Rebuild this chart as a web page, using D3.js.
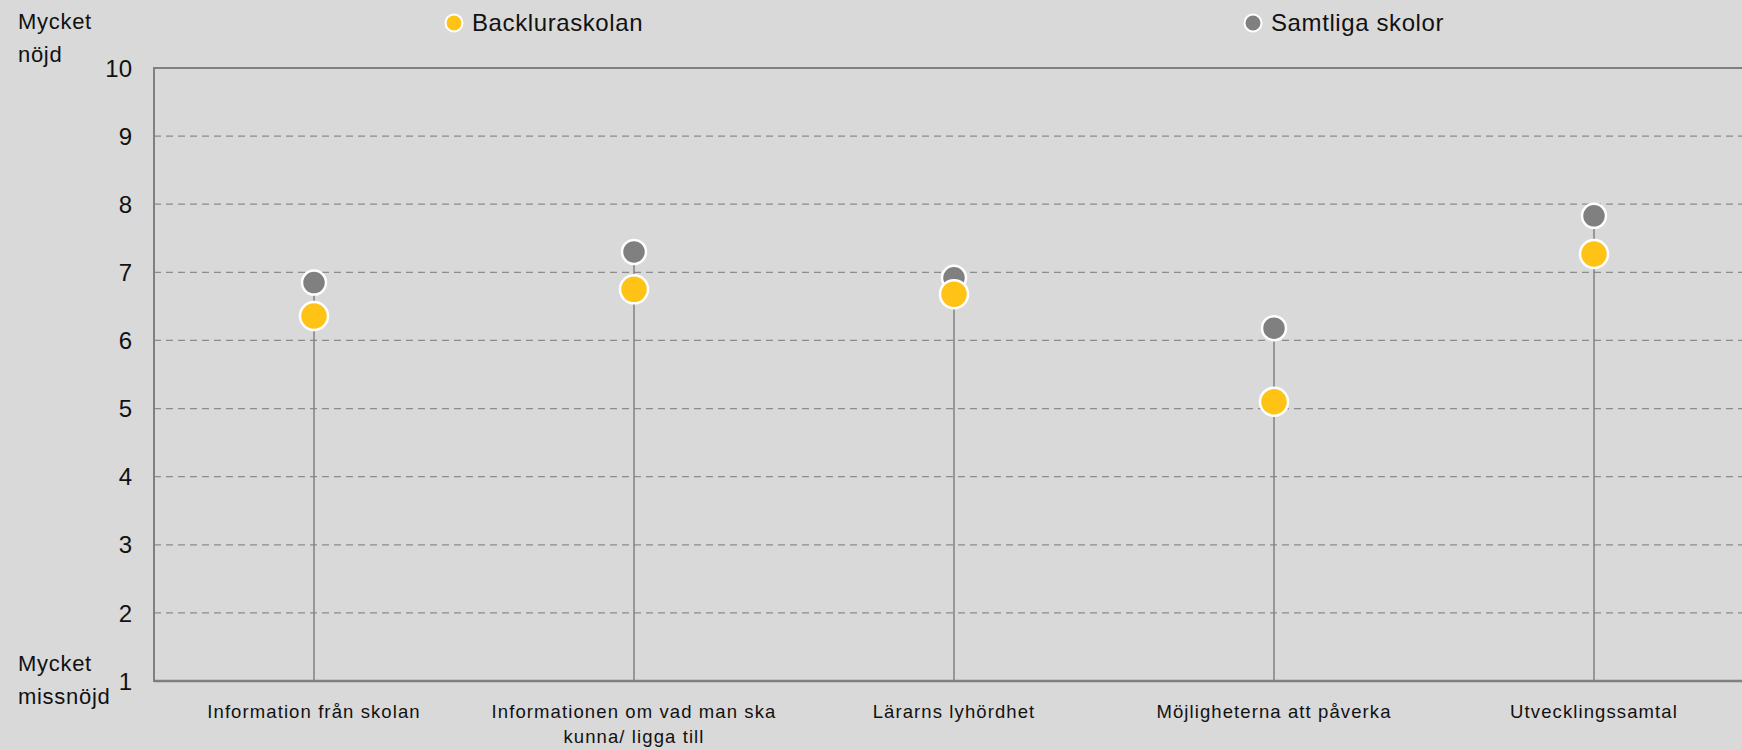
<!DOCTYPE html>
<html><head><meta charset="utf-8">
<script src="https://cdn.jsdelivr.net/npm/d3@7"></script>
<style>body{margin:0;background:#d9d9d9;}svg{display:block;font-family:"Liberation Sans",Arial,sans-serif;}</style>
</head><body>
<svg id="c" width="1742" height="750"></svg>
<script>
const categories = [["Information från skolan"],["Informationen om vad man ska","kunna/ ligga till"],["Lärarns lyhördhet"],["Möjligheterna att påverka"],["Utvecklingssamtal"]];
const backluraskolan = [6.36, 6.75, 6.68, 5.10, 7.27];
const samtliga = [6.85, 7.30, 6.92, 6.18, 7.83];
const yTicks = [1,2,3,4,5,6,7,8,9,10];
const seriesNames = ["Backluraskolan","Samtliga skolor"];

(function(){
const svg = d3.select("#c");
const W=1742,H=750;
svg.append("rect").attr("width",W).attr("height",H).attr("fill","#d9d9d9");
const pL=154, pR=1754, pT=68, pB=681;
const x = d3.scaleBand().domain(d3.range(categories.length)).range([pL,pR]);
const y = d3.scaleLinear().domain([1,10]).range([pB,pT]);

svg.append("g").selectAll("line").data(yTicks.filter(t=>t>1&&t<10)).join("line")
  .attr("x1",pL).attr("x2",W).attr("y1",d=>y(d)).attr("y2",d=>y(d))
  .attr("stroke","#8c8c8c").attr("stroke-width",1.2).attr("stroke-dasharray","7,5");
svg.append("line").attr("x1",pL).attr("x2",W).attr("y1",y(10)).attr("y2",y(10)).attr("stroke","#808080").attr("stroke-width",2);
svg.append("line").attr("x1",pL).attr("x2",W).attr("y1",y(1)).attr("y2",y(1)).attr("stroke","#808080").attr("stroke-width",2.5);
svg.append("line").attr("x1",pL).attr("x2",pL).attr("y1",y(10)-1).attr("y2",y(1)+1).attr("stroke","#808080").attr("stroke-width",2);

svg.append("g").selectAll("text").data(yTicks).join("text")
  .attr("x",132).attr("y",d=>y(d)).attr("dy","0.36em").attr("text-anchor","end")
  .attr("font-size",24).attr("fill","#111").text(d=>d);

const endLab = (lines,x0,y0)=>{const t=svg.append("text").attr("font-size",22).attr("letter-spacing","0.7px").attr("fill","#111");
  lines.forEach((l,i)=>t.append("tspan").attr("x",x0).attr("y",y0+i*33).text(l));};
endLab(["Mycket","nöjd"],18,29);
endLab(["Mycket","missnöjd"],18,671);

const cx = i=>x(i)+x.bandwidth()/2;
svg.append("g").selectAll("line").data(d3.range(categories.length)).join("line")
  .attr("x1",cx).attr("x2",cx).attr("y1",y(1)).attr("y2",i=>y(Math.max(samtliga[i],backluraskolan[i])))
  .attr("stroke","#808080").attr("stroke-width",1.5);
svg.append("g").selectAll("circle").data(samtliga).join("circle")
  .attr("cx",(d,i)=>cx(i)).attr("cy",d=>y(d)).attr("r",12).attr("fill","#808080").attr("stroke","#fff").attr("stroke-width",2.5);
svg.append("g").selectAll("circle").data(backluraskolan).join("circle")
  .attr("cx",(d,i)=>cx(i)).attr("cy",d=>y(d)).attr("r",14).attr("fill","#ffc316").attr("stroke","#fff").attr("stroke-width",2.5);

categories.forEach((lines,i)=>{
  const t=svg.append("text").attr("text-anchor","middle").attr("font-size",18.5).attr("letter-spacing","1.1px").attr("fill","#111");
  lines.forEach((l,j)=>t.append("tspan").attr("x",cx(i)).attr("y",718+j*25).text(l));
});

const leg=[{x:454,c:"#ffc316"},{x:1253,c:"#808080"}];
leg.forEach((l,i)=>{
  svg.append("circle").attr("cx",l.x).attr("cy",23).attr("r",8.5).attr("fill",l.c).attr("stroke","#fff").attr("stroke-width",2);
  svg.append("text").attr("x",l.x+18).attr("y",31).attr("font-size",24).attr("letter-spacing","0.6px").attr("fill","#111").text(seriesNames[i]);
});
})();
</script>
</body></html>
